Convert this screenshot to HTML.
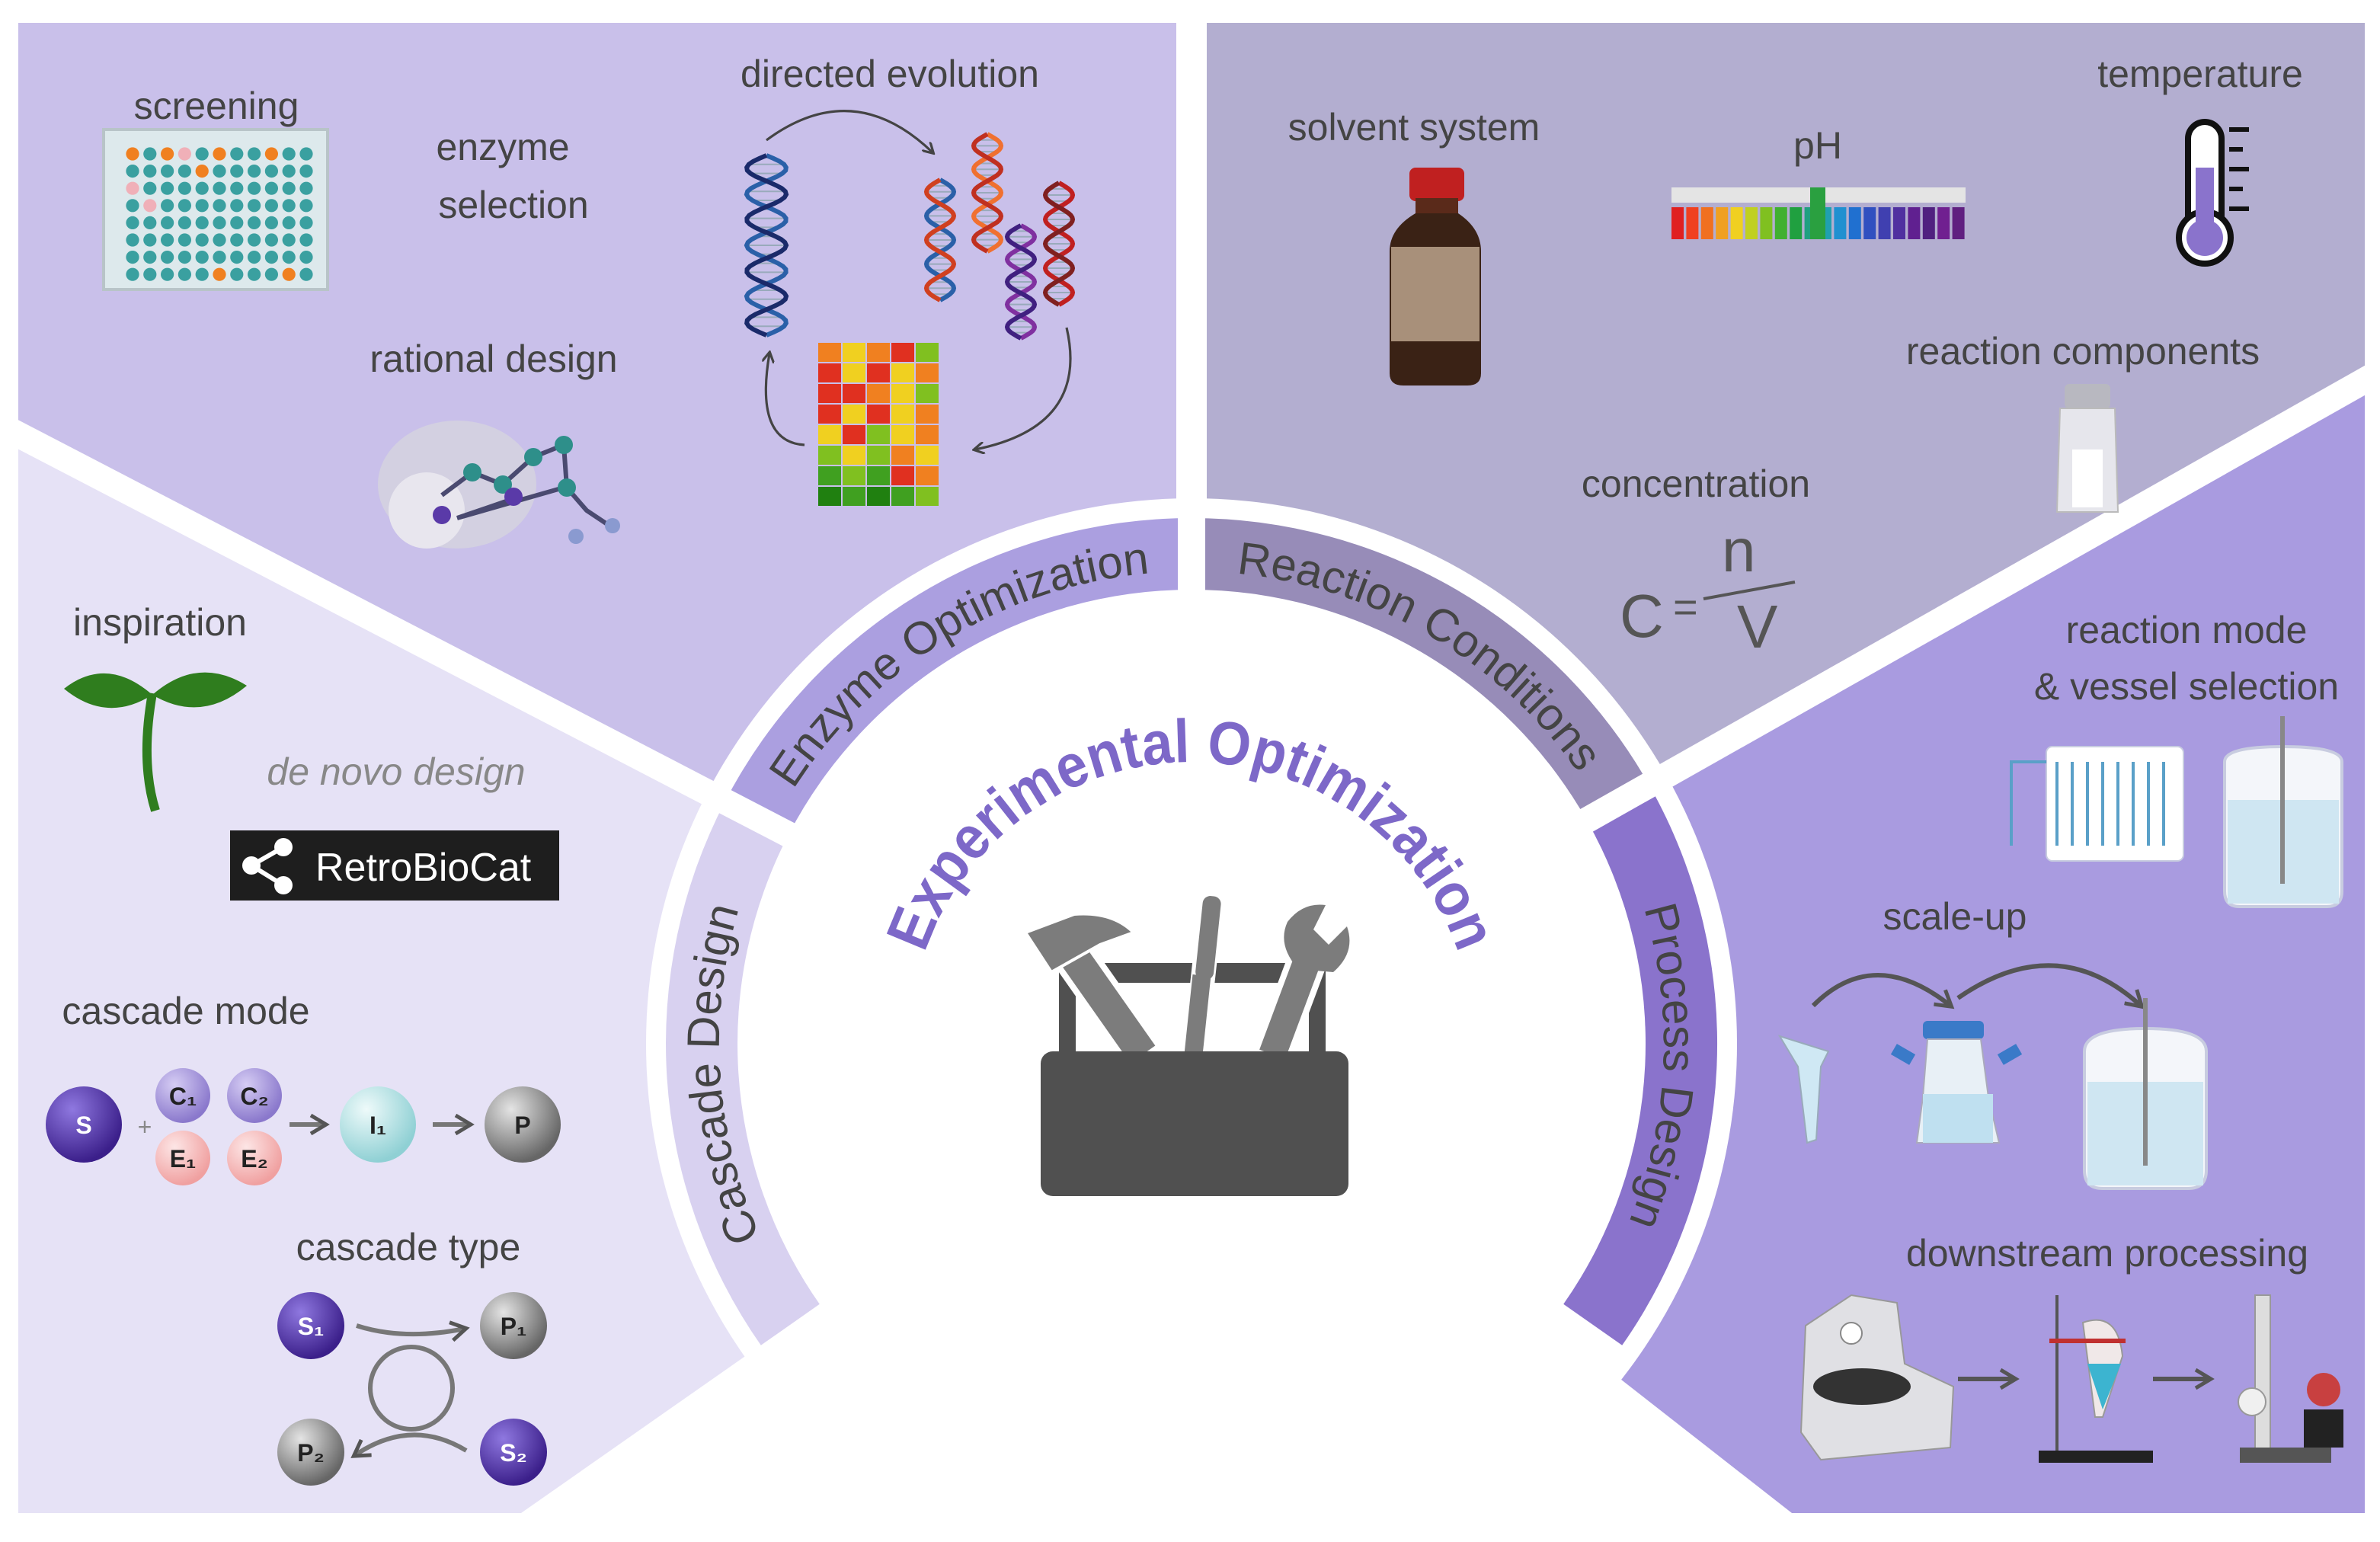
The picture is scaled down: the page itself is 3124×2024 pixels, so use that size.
<!DOCTYPE html>
<html><head><meta charset="utf-8"><style>
html,body{margin:0;padding:0;background:#fff;}
svg{display:block;}
text{font-family:"Liberation Sans",sans-serif;}
</style></head><body>
<svg id="s" width="3124" height="2024" viewBox="0 0 1562 1012" xmlns="http://www.w3.org/2000/svg">
<defs>
<radialGradient id="gp" cx="35%" cy="30%" r="70%"><stop offset="0" stop-color="#8f78e0"/><stop offset="1" stop-color="#3b1f8a"/></radialGradient>
<radialGradient id="gl" cx="35%" cy="30%" r="70%"><stop offset="0" stop-color="#d6cdf4"/><stop offset="1" stop-color="#8a78cc"/></radialGradient>
<radialGradient id="gk" cx="35%" cy="30%" r="70%"><stop offset="0" stop-color="#fde6e6"/><stop offset="1" stop-color="#f0a0a0"/></radialGradient>
<radialGradient id="gt" cx="35%" cy="30%" r="70%"><stop offset="0" stop-color="#eefafa"/><stop offset="1" stop-color="#8fd0d4"/></radialGradient>
<radialGradient id="gg" cx="35%" cy="30%" r="70%"><stop offset="0" stop-color="#e4e4e4"/><stop offset="1" stop-color="#666"/></radialGradient>
<marker id="ah" markerWidth="8" markerHeight="8" refX="6" refY="4" orient="auto" markerUnits="userSpaceOnUse"><path d="M0,0 L7,4 L0,8" fill="none" stroke="#444" stroke-width="1.6"/></marker>
<marker id="ah2" markerWidth="14" markerHeight="14" refX="10" refY="7" orient="auto" markerUnits="userSpaceOnUse"><path d="M1,1 L11,7 L1,13" fill="none" stroke="#555" stroke-width="2.5"/></marker>
<path id="pc" d="M528.1,862.8 A310,310 0 0 1 507,541.9"/>
<path id="pe" d="M507,541.9 A310,310 0 0 1 782,375"/>
<path id="pr" d="M782,375 A310,310 0 0 1 1051.8,532.4"/>
<path id="pp" d="M1051.8,532.4 A310,310 0 0 1 1035.9,862.8"/>
<path id="px" d="M597,685 A185,185 0 0 1 967,685"/>
</defs>
<!-- panels -->
<polygon points="782,685 12,284 12,993 342,993" fill="#e6e2f6"/>
<polygon points="782,685 12,284 12,15 772,15 772,685" fill="#c9c0ea"/>
<polygon points="792,15 1552,15 1552,249 782,685 792,685" fill="#b3aed0"/>
<polygon points="782,685 1552,249 1552,993 1176,993" fill="#a99be0"/>
<circle cx="782" cy="685" r="358" fill="#fff"/>
<!-- bands -->
<path d="M499.4,882.9 A345,345 0 0 1 476.0,525.7 L517.7,547.4 A298,298 0 0 0 537.9,855.9 Z" fill="#d8d1f0"/>
<path d="M476.0,525.7 A345,345 0 0 1 782,340 L782,387 A298,298 0 0 0 517.7,547.4 Z" fill="#ab9fe0"/>
<path d="M782,340 A345,345 0 0 1 1082.3,515.1 L1041.4,538.3 A298,298 0 0 0 782,387 Z" fill="#978cb8"/>
<path d="M1082.3,515.1 A345,345 0 0 1 1064.6,882.9 L1026.1,855.9 A298,298 0 0 0 1041.4,538.3 Z" fill="#8a73cc"/>
<!-- dividers -->
<line x1="782" y1="685" x2="0" y2="279" stroke="#fff" stroke-width="17"/>
<line x1="782" y1="685" x2="1562" y2="244" stroke="#fff" stroke-width="17"/>
<line x1="782" y1="0" x2="782" y2="685" stroke="#fff" stroke-width="18"/>
<circle cx="782" cy="685" r="296" fill="#fff"/>
<!-- band text -->
<g font-size="30" fill="#444">
<text><textPath href="#pc" startOffset="50%" text-anchor="middle">Cascade Design</textPath></text>
<text><textPath href="#pe" startOffset="50%" text-anchor="middle">Enzyme Optimization</textPath></text>
<text><textPath href="#pr" startOffset="50%" text-anchor="middle">Reaction Conditions</textPath></text>
<text><textPath href="#pp" startOffset="50%" text-anchor="middle">Process Design</textPath></text>
</g>
<text font-size="40" font-weight="bold" fill="#7d68c8" textLength="460" lengthAdjust="spacingAndGlyphs"><textPath href="#px" startOffset="50%" text-anchor="middle">Experimental Optimization</textPath></text>
<!-- toolbox -->
<g>
<rect x="697" y="632" width="171" height="13" fill="#505050"/>
<rect x="695" y="635" width="11" height="60" fill="#505050"/>
<rect x="859" y="635" width="11" height="60" fill="#505050"/>
<line x1="705" y1="628" x2="750" y2="692" stroke="#fff" stroke-width="28"/>
<line x1="705" y1="628" x2="750" y2="692" stroke="#7c7c7c" stroke-width="20"/>
<path d="M673,612 L705,600 Q730,598 744,612 L722,620 L690,638 Z" fill="#7c7c7c" stroke="#fff" stroke-width="2"/>
<line x1="793" y1="610" x2="784" y2="692" stroke="#fff" stroke-width="16"/>
<rect x="787" y="588" width="12" height="55" rx="5" fill="#7c7c7c" transform="rotate(6 793 615)"/>
<rect x="780" y="640" width="12" height="52" fill="#7c7c7c" transform="rotate(6 786 666)"/>
<line x1="860" y1="625" x2="835" y2="692" stroke="#fff" stroke-width="26"/>
<line x1="860" y1="625" x2="835" y2="692" stroke="#7c7c7c" stroke-width="18"/>
<path d="M845,605 Q855,592 870,594 L862,610 L872,620 L884,608 Q890,625 875,638 L852,636 Q838,620 845,605Z" fill="#7c7c7c"/>
<rect x="683" y="690" width="202" height="95" rx="8" fill="#505050"/>
</g>
<!-- labels -->
<g font-size="25" fill="#444" text-anchor="middle">
<text x="142" y="78">screening</text>
<text x="330" y="105">enzyme</text>
<text x="337" y="143">selection</text>
<text x="584" y="57">directed evolution</text>
<text x="324" y="244">rational design</text>
<text x="928" y="92">solvent system</text>
<text x="1193" y="104">pH</text>
<text x="1444" y="57">temperature</text>
<text x="1367" y="239">reaction components</text>
<text x="1113" y="326">concentration</text>
<text x="105" y="417">inspiration</text>
<text x="260" y="515" font-style="italic" fill="#888">de novo design</text>
<text x="122" y="672">cascade mode</text>
<text x="268" y="827">cascade type</text>
<text x="1435" y="422">reaction mode</text>
<text x="1435" y="459">&amp; vessel selection</text>
<text x="1283" y="610">scale-up</text>
<text x="1383" y="831">downstream processing</text>
</g>
<!-- screening plate -->
<rect x="68" y="85" width="147" height="105" fill="#dde9ec" stroke="#b8c4c8" stroke-width="2"/>
<g id="plate"></g>
<!-- DNA -->
<g id="dna"></g>
<path d="M503,92 Q560,50 612,100" fill="none" stroke="#444" stroke-width="1.6" marker-end="url(#ah)"/>
<path d="M700,215 Q715,280 640,295" fill="none" stroke="#444" stroke-width="1.6" marker-end="url(#ah)"/>
<path d="M528,292 Q495,290 505,232" fill="none" stroke="#444" stroke-width="1.6" marker-end="url(#ah)"/>
<g id="heat"></g>
<!-- protein -->
<ellipse cx="300" cy="318" rx="52" ry="42" fill="#d6d3de" opacity=".8"/>
<ellipse cx="280" cy="335" rx="25" ry="25" fill="#e8e6ee"/>
<g stroke="#4a4a70" stroke-width="3" fill="none"><path d="M290,325 L310,310 L330,318 L350,300 L370,292 L372,320 L385,335 L400,345 M335,328 L300,340 L370,320"/></g>
<g fill="#2e8f8a"><circle cx="310" cy="310" r="6"/><circle cx="350" cy="300" r="6"/><circle cx="370" cy="292" r="6"/><circle cx="372" cy="320" r="6"/><circle cx="330" cy="318" r="6"/></g>
<g fill="#5a3aa8"><circle cx="290" cy="338" r="6"/><circle cx="337" cy="326" r="6"/></g>
<circle cx="402" cy="345" r="5" fill="#8a9ad0"/><circle cx="378" cy="352" r="5" fill="#8a9ad0"/>
<!-- solvent bottle -->
<rect x="925" y="110" width="36" height="22" rx="4" fill="#c02020"/>
<rect x="929" y="130" width="28" height="10" fill="#5a2a1a"/>
<path d="M929,140 L957,140 Q972,150 972,165 L972,245 Q972,253 963,253 L921,253 Q912,253 912,245 L912,165 Q912,150 929,140Z" fill="#3a2215"/>
<rect x="913" y="162" width="58" height="62" fill="#a8907a"/>
<!-- pH -->
<rect x="1097" y="123" width="193" height="10" fill="#e4e4e4"/>
<g id="ph"></g>
<rect x="1188" y="123" width="10" height="34" fill="#2aa040"/>
<!-- thermometer -->
<rect x="1436" y="80" width="22" height="75" rx="11" fill="#fff" stroke="#111" stroke-width="4"/>
<circle cx="1447" cy="156" r="17" fill="#fff" stroke="#111" stroke-width="4"/>
<rect x="1441" y="110" width="12" height="45" fill="#8a73cc"/>
<circle cx="1447" cy="156" r="12" fill="#8a73cc"/>
<g stroke="#111" stroke-width="3"><line x1="1463" y1="85" x2="1476" y2="85"/><line x1="1463" y1="98" x2="1472" y2="98"/><line x1="1463" y1="111" x2="1476" y2="111"/><line x1="1463" y1="124" x2="1472" y2="124"/><line x1="1463" y1="137" x2="1476" y2="137"/></g>
<!-- salt shaker -->
<rect x="1355" y="252" width="30" height="16" rx="3" fill="#b8b8c0"/>
<path d="M1352,268 L1388,268 L1390,336 L1350,336Z" fill="#e6e6ec" stroke="#bbb"/>
<rect x="1360" y="295" width="20" height="38" fill="#fff"/>
<!-- formula -->
<g fill="#555" font-size="40"><text x="1063" y="418">C</text><text x="1098" y="408" font-size="28">=</text><text x="1130" y="375">n</text><text x="1140" y="425">V</text></g>
<line x1="1118" y1="393" x2="1178" y2="382" stroke="#555" stroke-width="2"/>
<!-- sprout -->
<path d="M100,455 Q92,500 102,532" fill="none" stroke="#2f7d1e" stroke-width="6"/>
<path d="M100,456 Q70,430 42,452 Q70,475 100,456Z" fill="#2f7d1e"/>
<path d="M100,456 Q130,430 162,450 Q132,475 100,456Z" fill="#2f7d1e"/>
<!-- RetroBioCat -->
<rect x="151" y="545" width="216" height="46" fill="#1e1e1e"/>
<g fill="#fff"><circle cx="165" cy="568" r="6"/><circle cx="186" cy="556" r="6"/><circle cx="186" cy="581" r="6"/></g>
<path d="M165,568 L186,556 M165,568 L186,581" stroke="#fff" stroke-width="3"/>
<text x="207" y="578" font-size="26" fill="#fff">RetroBioCat</text>
<!-- cascade mode -->
<g font-size="16" font-weight="bold" fill="#fff" text-anchor="middle">
<circle cx="55" cy="738" r="25" fill="url(#gp)"/><text x="55" y="744">S</text>
<text x="95" y="745" fill="#888" font-weight="normal">+</text>
<circle cx="120" cy="719" r="18" fill="url(#gl)"/><text x="120" y="725" fill="#222">C₁</text>
<circle cx="167" cy="719" r="18" fill="url(#gl)"/><text x="167" y="725" fill="#222">C₂</text>
<circle cx="120" cy="760" r="18" fill="url(#gk)"/><text x="120" y="766" fill="#222">E₁</text>
<circle cx="167" cy="760" r="18" fill="url(#gk)"/><text x="167" y="766" fill="#222">E₂</text>
<circle cx="248" cy="738" r="25" fill="url(#gt)"/><text x="248" y="744" fill="#222">I₁</text>
<circle cx="343" cy="738" r="25" fill="url(#gg)"/><text x="343" y="744" fill="#222">P</text>
<circle cx="204" cy="870" r="22" fill="url(#gp)"/><text x="204" y="876">S₁</text>
<circle cx="337" cy="870" r="22" fill="url(#gg)"/><text x="337" y="876" fill="#222">P₁</text>
<circle cx="204" cy="953" r="22" fill="url(#gg)"/><text x="204" y="959" fill="#222">P₂</text>
<circle cx="337" cy="953" r="22" fill="url(#gp)"/><text x="337" y="959">S₂</text>
</g>
<g stroke="#777" stroke-width="3" fill="none">
<line x1="190" y1="738" x2="213" y2="738" marker-end="url(#ah2)"/>
<line x1="284" y1="738" x2="308" y2="738" marker-end="url(#ah2)"/>
<path d="M234,870 Q265,880 305,872" marker-end="url(#ah2)"/>
<path d="M306,952 Q270,930 233,955" marker-end="url(#ah2)"/>
<circle cx="270" cy="911" r="27"/>
</g>
<!-- process icons -->
<rect x="1343" y="490" width="90" height="75" rx="4" fill="#fff" stroke="#c8cce0"/>
<path d="M1350,500 L1350,555 M1360,500 L1360,555 M1370,500 L1370,555 M1380,500 L1380,555 M1390,500 L1390,555 M1400,500 L1400,555 M1410,500 L1410,555 M1420,500 L1420,555" stroke="#5aa0c8" stroke-width="2"/>
<path d="M1320,555 L1320,500 L1343,500" fill="none" stroke="#5aa0c8" stroke-width="2"/>
<path d="M1460,500 Q1460,490 1498,490 Q1537,490 1537,500 L1537,585 Q1537,595 1527,595 L1470,595 Q1460,595 1460,585Z" fill="#f4f6fa" stroke="#c8cce0" stroke-width="2"/>
<rect x="1462" y="525" width="73" height="68" fill="#cfe6f2"/>
<line x1="1498" y1="470" x2="1498" y2="580" stroke="#888" stroke-width="3"/>
<path d="M1190,660 Q1230,620 1280,660" fill="none" stroke="#555" stroke-width="3" marker-end="url(#ah2)"/>
<path d="M1285,655 Q1350,610 1405,660" fill="none" stroke="#555" stroke-width="3" marker-end="url(#ah2)"/>
<path d="M1168,680 L1200,690 L1195,700 L1192,748 L1186,750 L1180,700Z" fill="#cfe8f4" stroke="#9ab"/>
<rect x="1262" y="670" width="40" height="12" rx="3" fill="#3a7ac8"/>
<path d="M1265,682 L1300,682 L1305,720 L1312,750 L1258,750 L1262,720Z" fill="#e8f0f6" stroke="#aab"/>
<rect x="1262" y="718" width="46" height="32" fill="#bfe0f0"/>
<rect x="1242" y="688" width="14" height="8" fill="#3a7ac8" transform="rotate(30 1249 692)"/>
<rect x="1312" y="688" width="14" height="8" fill="#3a7ac8" transform="rotate(-30 1319 692)"/>
<path d="M1368,690 Q1368,675 1408,675 Q1448,675 1448,690 L1448,768 Q1448,780 1436,780 L1380,780 Q1368,780 1368,768Z" fill="#f4f6fa" stroke="#c8cce0" stroke-width="2"/>
<rect x="1370" y="710" width="76" height="68" fill="#cfe6f2"/>
<line x1="1408" y1="655" x2="1408" y2="765" stroke="#888" stroke-width="3"/>
<path d="M1185,870 L1215,850 L1245,855 L1250,895 L1282,910 L1280,950 L1195,958 L1182,940Z" fill="#e0e0e4" stroke="#999"/>
<ellipse cx="1222" cy="910" rx="32" ry="12" fill="#333"/>
<circle cx="1215" cy="875" r="7" fill="#fff" stroke="#888"/>
<line x1="1285" y1="905" x2="1322" y2="905" stroke="#555" stroke-width="3" marker-end="url(#ah2)"/>
<line x1="1350" y1="850" x2="1350" y2="955" stroke="#555" stroke-width="2"/>
<rect x="1338" y="952" width="75" height="8" fill="#222"/>
<path d="M1367,868 Q1390,860 1393,890 L1380,930 L1375,930 Z" fill="#f0e8e8" stroke="#999"/>
<path d="M1370,895 L1392,895 L1380,925Z" fill="#3cb4d0"/>
<line x1="1345" y1="880" x2="1395" y2="880" stroke="#c03030" stroke-width="3"/>
<line x1="1413" y1="905" x2="1450" y2="905" stroke="#555" stroke-width="3" marker-end="url(#ah2)"/>
<rect x="1480" y="850" width="10" height="105" fill="#ddd" stroke="#999"/>
<rect x="1470" y="950" width="60" height="10" fill="#555"/>
<circle cx="1478" cy="920" r="9" fill="#f0f0f0" stroke="#999"/>
<circle cx="1525" cy="912" r="11" fill="#c84040"/>
<rect x="1512" y="925" width="26" height="25" fill="#222"/>
</svg>
<script>
var NS="http://www.w3.org/2000/svg";
function el(p,t,a){var e=document.createElementNS(NS,t);for(var k in a)e.setAttribute(k,a[k]);document.getElementById(p).appendChild(e);return e;}
// plate
for(var r=0;r<8;r++)for(var c=0;c<11;c++){var col="#3aa0a0";
 if((r==0&&(c==0||c==2||c==5||c==8))||(r==1&&c==4)||(r==7&&(c==5||c==9)))col="#f08020";
 if((r==0&&c==3)||(r==2&&c==0)||(r==3&&c==1))col="#f0b0b8";
 el("plate","circle",{cx:87+c*11.4,cy:101+r*11.3,r:4.3,fill:col});}
// dna
function helix(cx,y0,y1,a,n,c1,c2,tilt){var p1="",p2="";var N=60;
 for(var i=0;i<=N;i++){var t=i/N,y=y0+(y1-y0)*t,s=Math.sin(2*Math.PI*n*t),dx=tilt*t;
  p1+=(i?"L":"M")+(cx+dx+a*s).toFixed(1)+","+y.toFixed(1);p2+=(i?"L":"M")+(cx+dx-a*s).toFixed(1)+","+y.toFixed(1);
  if(i%3==0)el("dna","line",{x1:cx+dx+a*s,y1:y,x2:cx+dx-a*s,y2:y,stroke:"#9ab",  "stroke-width":1});}
 el("dna","path",{d:p1,fill:"none",stroke:c1,"stroke-width":3});el("dna","path",{d:p2,fill:"none",stroke:c2,"stroke-width":3});}
helix(503,102,220,13,3.5,"#2a60a8","#1a2a6a",0);
helix(617,118,197,9,2.5,"#2a60a8","#d04020",0);
helix(648,88,165,9,2.5,"#f07030","#c03020",0);
helix(670,148,222,9,2.5,"#8030a0","#402080",0);
helix(695,120,200,9,2.5,"#c02020","#802020",0);
// heatmap
var hc=["#f08020","#f0d020","#f08020","#e03020","#80c020","#e03020","#f0d020","#e03020","#f0d020","#f08020","#e03020","#e03020","#f08020","#f0d020","#80c020","#e03020","#f0d020","#e03020","#f0d020","#f08020","#f0d020","#e03020","#80c020","#f0d020","#f08020","#80c020","#f0d020","#80c020","#f08020","#f0d020","#40a020","#80c020","#40a020","#e03020","#f08020","#208010","#40a020","#208010","#40a020","#80c020"];
for(var r=0;r<8;r++)for(var c=0;c<5;c++)el("heat","rect",{x:537+c*16,y:225+r*13.5,width:15,height:12.5,fill:hc[r*5+c]});
// pH
var pc=["#e02020","#f04020","#f07020","#f0a020","#f0d020","#c0d020","#80c020","#40b030","#20a040","#20a080","#20a0b0","#2090d0","#2070d0","#3050c0","#4040b0","#5030a0","#602090","#502080","#702090","#602080"];
for(var i=0;i<20;i++)el("ph","rect",{x:1097+i*9.7,y:136,width:8,height:21,fill:pc[i]});
</script>
</body></html>
